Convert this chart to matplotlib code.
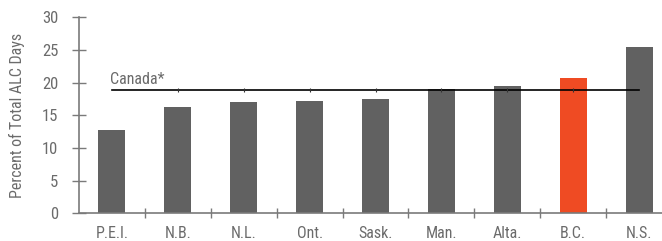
import matplotlib
matplotlib.use("Agg")
import matplotlib.pyplot as plt

provinces = ["P.E.I.", "N.B.", "N.L.", "Ont.", "Sask.", "Man.", "Alta.", "B.C.", "N.S."]
values = [12.8, 16.3, 17.0, 17.2, 17.5, 19.0, 19.5, 20.7, 25.5]
canada_avg = 18.8
highlight = "B.C."
yticks = [0, 5, 10, 15, 20, 25, 30]

plt.rcParams['font.family'] = ['Roboto Condensed', 'DejaVu Sans']

grey = "#616161"
orange = "#EF4B23"
txt = "#6b6b6b"
axc = "#7a7a7a"

W, H = 662, 241
fig = plt.figure(figsize=(W/100, H/100), dpi=100)
left, right, bottom, top = 79, 672, 213.3, 17.3
ax = fig.add_axes([left/W, (H-bottom)/H, (right-left)/W, (bottom-top)/H])

x = list(range(len(provinces)))
colors = [orange if p == highlight else grey for p in provinces]
ax.bar(x, values, width=0.41, color=colors, zorder=2)
ax.plot([x[0], x[-1]], [canada_avg]*2, color="black", lw=1.2, zorder=3)
ax.plot(x[1:-1], [canada_avg]*(len(x)-2), ls="none", marker="|", ms=3, mew=0.8, color="#333333", zorder=3)
ax.text(x[0] - 0.03, canada_avg + 1.0, "Canada*", fontsize=11.5, color=txt, ha="left", va="baseline")

ax.set_xlim(-0.5, len(provinces) - 0.5)
ax.set_ylim(0, 30)
ax.set_yticks(yticks)
ax.set_yticklabels([str(v) for v in yticks], fontsize=12, color=txt)
ax.set_xticks([i + 0.5 for i in x[:-1]])
ax.set_xticklabels([])
ax.set_xticks(x, minor=True)
ax.set_xticklabels(provinces, minor=True, fontsize=11.5, color=txt)
ax.tick_params(axis="x", which="minor", length=0, pad=9)
ax.tick_params(axis="x", which="major", direction="inout", length=7, width=1, color=axc)
ax.tick_params(axis="y", direction="inout", length=10, width=1, color=axc, pad=10)
for s in ["top", "right"]:
    ax.spines[s].set_visible(False)
for s in ["left", "bottom"]:
    ax.spines[s].set_color(axc)
    ax.spines[s].set_linewidth(1.2)
ax.set_ylabel("Percent of Total ALC Days", fontsize=11.5, color=txt, labelpad=12)

fig.savefig("out.png", dpi=100)
